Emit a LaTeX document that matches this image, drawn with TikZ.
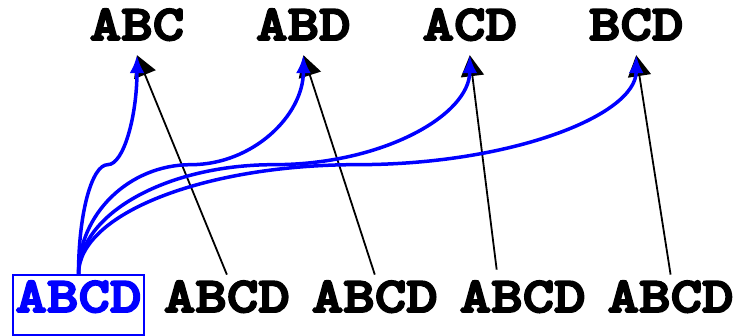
\documentclass[tikz,border=0pt]{standalone}
\usepackage{fontspec}
\usetikzlibrary{arrows.meta, positioning, calc}
\newfontfamily\setfont[FakeBold=4, FakeStretch=1.2]{lmmonolt10-bold.otf}

\begin{document}
\begin{tikzpicture}[x=1pt, y=1pt,
  word/.style={font=\fontsize{50}{60}\selectfont\setfont,
               inner xsep=2.5pt, inner ysep=6pt, text depth=17pt},
  subset/.style={word, inner ysep=2.5pt, text depth=12.5pt},
  fullset/.style={word, draw=blue, line width=1.4pt, text=blue},
  link/.style={-{Triangle[length=21pt,width=23pt]}, line width=1.8pt},
  sweep/.style={to path={let \p1=(\tikztostart), \p2=(\tikztotarget),
      \p3=($(\p1)!0.5!(\p2)$) in
      .. controls (\x1,{\y1+0.55*(\y3-\y1)}) and ({\x3-0.55*(\x3-\x1)},\y3) .. (\p3)
      .. controls ({\x3+0.55*(\x2-\x3)},\y3) and (\x2,{\y2-0.55*(\y2-\y3)}) .. (\p2)}},
  sprout/.style={-{Latex[length=18pt,width=15pt]}, line width=3.5pt, blue, sweep}
]
\useasboundingbox (0,0) rectangle (745,336);

% top row
\node[subset, anchor=base] (abc) at (137,296) {ABC};
\node[subset, right=66.5pt of abc] (abd) {ABD};
\node[subset, right=66.5pt of abd] (acd) {ACD};
\node[subset, right=66.5pt of acd] (bcd) {BCD};

% bottom row
\node[fullset, anchor=base] (full) at (78.5,24) {ABCD};
\node[word, right=16.5pt of full] (w1) {ABCD};
\node[word, right=16.5pt of w1] (w2) {ABCD};
\node[word, right=16.5pt of w2] (w3) {ABCD};
\node[word, right=16.5pt of w3] (w4) {ABCD};

\draw[link] (w1.north) -- (abc.south);
\draw[link] (w2.north) -- (abd.south);
\draw[link] ([xshift=-26pt, yshift=5pt]w3.north) -- (acd.south);
\draw[link] (w4.north) -- (bcd.south);

\foreach \t in {abc, abd, acd, bcd}
  \draw[sprout] (full.north) to (\t.south);
\end{tikzpicture}
\end{document}
